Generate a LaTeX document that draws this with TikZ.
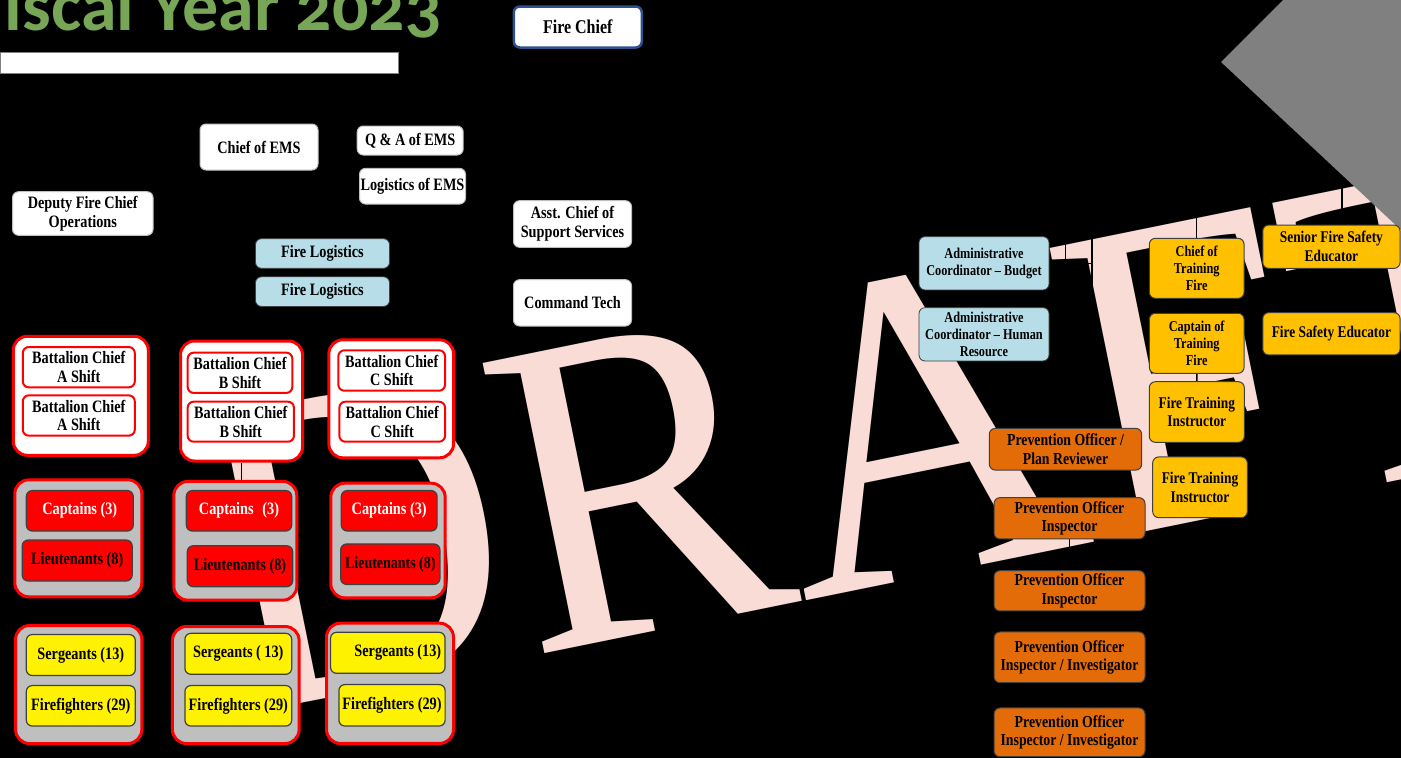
\documentclass[tikz,border=0pt]{standalone}
\usepackage{fontspec}
\usepackage{tikz}
\usetikzlibrary{positioning}

\newfontfamily\chartfont{Liberation Serif}[FakeStretch=0.82]
\newfontfamily\titlefont{Carlito}[Numbers=OldStyle]
\newfontfamily\draftfont{Liberation Serif}

\definecolor{titlegreen}{RGB}{119,166,87}
\definecolor{draftpink}{RGB}{248,220,213}
\definecolor{diamondgray}{RGB}{128,128,128}
\definecolor{lightblue}{RGB}{183,222,232}
\definecolor{goldbox}{RGB}{255,192,0}
\definecolor{orangebox}{RGB}{227,108,9}
\definecolor{groupgray}{RGB}{191,191,191}
\definecolor{chiefblue}{RGB}{47,82,143}
\definecolor{edgegray}{RGB}{64,64,64}

\pgfdeclarelayer{bg}
\pgfdeclarelayer{mark}
\pgfdeclarelayer{lines}
\pgfdeclarelayer{shade}
\pgfsetlayers{bg,mark,lines,shade,main}

\tikzset{base node/.style={rounded corners=6pt,inner sep=1pt,align=center,
    font=\chartfont\bfseries\fontsize{17.4}{18.6}\selectfont},
  dims/.style 2 args={minimum width=#1,minimum height=#2},
  white node/.style={base node,fill=white,draw=groupgray,line width=1pt},
  blue node/.style={base node,fill=lightblue,draw=edgegray,line width=0.8pt},
  group node/.style={rounded corners=14pt,draw=red,line width=3pt},
  shift node/.style={base node,fill=white,draw=red,line width=2pt},
  red node/.style={base node,fill=red,draw=edgegray,line width=1.2pt},
  yellow node/.style={base node,fill=yellow,draw=edgegray,line width=1.2pt},
  gold node/.style={base node,fill=goldbox,draw=edgegray,line width=1pt},
  orange node/.style={base node,fill=orangebox,draw=edgegray,line width=1pt,
    font=\chartfont\bfseries\fontsize{16.8}{18.3}\selectfont},
  small text/.style={font=\chartfont\bfseries\fontsize{15}{16.7}\selectfont},
  mid text/.style={font=\chartfont\bfseries\fontsize{16.3}{18.8}\selectfont},
  link/.style={draw=black,line width=1.5pt},}

\begin{document}
\begin{tikzpicture}[x=1pt,y=-1pt]
    \useasboundingbox (0,0) rectangle (1401,758);
    \begin{pgfonlayer}{bg}
    \fill[black] (0,0) rectangle (1401,758);
    \node[anchor=base east,inner sep=0,text=titlegreen,
      font=\titlefont\bfseries\fontsize{72}{72}\selectfont] (title) at (442,30) {Fiscal Year 2023};
    \filldraw[fill=white,draw=gray,line width=1pt] (0,52.3) rectangle (398.2,73.3);
    \end{pgfonlayer}
    \begin{pgfonlayer}{mark}
    \node[anchor=base west,inner sep=0,rotate=11.5,text=draftpink] (draft) at (235,717)
      {\scalebox{0.92}[1]{\draftfont\fontsize{453}{453}\selectfont DRAFT}};
    \end{pgfonlayer}
    \begin{pgfonlayer}{shade}
    \fill[diamondgray] (1221,62) -- (1283,0) -- (1401,0) -- (1401,230) -- cycle;
    \end{pgfonlayer}

    % top row
    \node[white node,draw=chiefblue,line width=2.5pt,dims={128pt}{41pt},
      font=\chartfont\bfseries\fontsize{19.5}{21}\selectfont] (chief) at (577.8,27) {Fire Chief};
    \node[white node,dims={118pt}{46pt}] (ems) at (259,147) {Chief of EMS};
    \node[white node,dims={106pt}{29pt}] (qa) at (410.2,140.5) {Q \& A of EMS};
    \node[white node,dims={106pt}{35.7pt},inner sep=0.5pt] (logems) at (412.5,186.2) {Logistics of EMS};
    \node[white node,dims={140.5pt}{43.6pt}] (deputy) at (82.8,213.5) {Deputy Fire Chief\\Operations};
    \node[blue node,dims={134pt}{29.6pt}] (flog1) at (322.5,253.5) {Fire Logistics};
    \node[blue node,dims={134pt}{29.6pt},below=7.7pt of flog1] (flog2) {Fire Logistics};
    \node[white node,dims={118pt}{46.6pt}] (asst) at (572.5,224) {Asst. Chief of\\Support Services};
    \node[white node,dims={118pt}{46.3pt},below=31.4pt of asst] (ctech) {Command Tech};

    % battalion chiefs
    \node[group node,fill=white,dims={135pt}{119pt}] (bcA) at (80.8,395.8) {};
    \node[shift node,dims={112pt}{40.3pt}] (bcA1) at (78.8,367.2) {Battalion Chief\\A Shift};
    \node[shift node,dims={112pt}{40.3pt}] (bcA2) at (78.8,415.5) {Battalion Chief\\A Shift};
    \node[group node,fill=white,dims={122pt}{120pt}] (bcB) at (241.5,401) {};
    \node[shift node,dims={104.6pt}{40.3pt}] (bcB1) at (240,372.8) {Battalion Chief\\B Shift};
    \node[shift node,dims={106.3pt}{40pt}] (bcB2) at (240.8,421.7) {Battalion Chief\\B Shift};
    \node[group node,fill=white,dims={124.7pt}{118pt}] (bcC) at (391.2,398.8) {};
    \node[shift node,dims={106.7pt}{40.4pt}] (bcC1) at (391.7,370.5) {Battalion Chief\\C Shift};
    \node[shift node,dims={105.7pt}{40pt}] (bcC2) at (392.2,421.7) {Battalion Chief\\C Shift};

    % captains and lieutenants
    \node[group node,fill=groupgray,dims={127pt}{117pt}] (capsA) at (78.3,538.3) {};
    \node[red node,text=white,dims={107pt}{40.5pt}] (capA) at (79.8,510.8) {Captains (3)};
    \node[red node,dims={110pt}{41pt}] (ltA) at (77.2,560.5) {Lieutenants (8)};
    \node[group node,fill=groupgray,dims={123pt}{118.7pt}] (capsB) at (235.3,540.8) {};
    \node[red node,text=white,dims={105.4pt}{40.5pt}] (capB) at (239,510.8) {Captains\enspace(3)};
    \node[red node,dims={105.4pt}{41pt}] (ltB) at (240,566.2) {Lieutenants (8)};
    \node[group node,fill=groupgray,dims={114.4pt}{114.6pt}] (capsC) at (388,540.5) {};
    \node[red node,text=white,dims={95.8pt}{40.5pt}] (capC) at (389.2,510.8) {Captains (3)};
    \node[red node,dims={99.3pt}{40.5pt},inner sep=0pt,
      font=\chartfont\bfseries\fontsize{17}{18.6}\selectfont] (ltC) at (390.3,564.2) {Lieutenants (8)};

    % sergeants and firefighters
    \node[group node,fill=groupgray,dims={126.3pt}{118pt}] (sgtsA) at (78.7,684.5) {};
    \node[yellow node,dims={109pt}{41pt}] (sgtA) at (80.8,655) {Sergeants (13)};
    \node[yellow node,dims={109pt}{40.5pt}] (ffA) at (80.8,705.8) {Firefighters (29)};
    \node[group node,fill=groupgray,dims={126.7pt}{117pt}] (sgtsB) at (235.8,685) {};
    \node[yellow node,dims={106.8pt}{41pt}] (sgtB) at (238.3,653.8) {Sergeants ( 13)};
    \node[yellow node,dims={106.8pt}{40.5pt}] (ffB) at (238.3,705.8) {Firefighters (29)};
    \node[group node,fill=groupgray,dims={127pt}{120.3pt}] (sgtsC) at (390,683.3) {};
    \node[yellow node,dims={114.5pt}{41pt}] (sgtC) at (387.8,652.8) {\hspace*{20pt}Sergeants (13)};
    \node[yellow node,dims={106.2pt}{41.5pt}] (ffC) at (392,705.3) {Firefighters (29)};

    % support side
    \node[blue node,small text,dims={130pt}{53.3pt}] (admin1) at (984,263.3) {Administrative\\Coordinator – Budget};
    \node[blue node,small text,dims={130pt}{53.3pt}] (admin2) at (984,334.3) {Administrative\\Coordinator – Human\\Resource};
    \node[gold node,small text,dims={94.7pt}{60pt}] (ctrain) at (1196.7,268.3) {Chief of\\Training\\Fire};
    \node[gold node,small text,dims={94.7pt}{60pt}] (captrain) at (1196.7,343.3) {Captain of\\Training\\Fire};
    \node[gold node,mid text,dims={95pt}{60.6pt}] (fti1) at (1196.8,412) {Fire Training\\Instructor};
    \node[gold node,mid text,dims={94.6pt}{60.7pt}] (fti2) at (1200,487.3) {Fire Training\\Instructor};
    \node[gold node,mid text,dims={137.3pt}{43.3pt}] (sfse) at (1331.4,246.7) {Senior Fire Safety\\Educator};
    \node[gold node,mid text,dims={137.3pt}{42.3pt}] (fse) at (1331.4,333.8) {Fire Safety Educator};
    \node[orange node,dims={152.4pt}{41.7pt}] (plan) at (1065.5,449.2) {Prevention Officer /\\Plan Reviewer};
    \node[orange node,dims={151pt}{41.3pt}] (poi1) at (1069.5,518.3) {Prevention Officer\\Inspector};
    \node[orange node,dims={151pt}{40.3pt}] (poi2) at (1069.5,590.8) {Prevention Officer\\Inspector};
    \node[orange node,dims={151pt}{50.7pt}] (poii1) at (1069.5,657.3) {Prevention Officer\\Inspector / Investigator};
    \node[orange node,dims={151pt}{48.7pt}] (poii2) at (1069.5,732.3) {Prevention Officer\\Inspector / Investigator};

    \begin{pgfonlayer}{lines}
    \coordinate (hub) at (577.8,100);
    \coordinate (trunk) at (803,758);
    \coordinate (rbus) at (803,180);
    \coordinate (rend) at (1342,180);
    \coordinate (adm) at (1092,180);
    \coordinate (obus) at (0,315);
    \draw[link] (chief) -- (hub);
    \draw[link] (deputy.north) |- (hub) -| (trunk);
    \draw[link] (ems.north) -- (ems.north |- hub);
    \draw[link] (asst.north) -- (asst.north |- hub);
    \draw[link] (asst) -- (ctech);
    \draw[link] (ems.east |- qa.west) -- (qa.west);
    \draw[link] (qa) -- (qa.south |- logems.north);
    % operations
    \draw[link] (deputy.south) -- (deputy.south |- obus) -| (bcC.north);
    \draw[link] (bcA.north) -- (bcA.north |- obus);
    \draw[link] (bcB.north) -- (bcB.north |- obus);
    \foreach \col in {A,B,C}{
      \draw[link] (bc\col.south) -- (bc\col.south |- caps\col.north);
      \draw[link] (caps\col.south) -- (caps\col.south |- sgts\col.north);
    }
    % support
    \draw[link] (rbus) -| (sfse.north -| rend);
    \draw[link] (plan.north) -- (plan.north |- rbus);
    \draw[link] (adm) |- (admin2.east);
    \draw[link] (admin1.east) -- (admin1.east -| adm);
    \draw[link] (ctrain.north) -- (ctrain.north |- rbus);
    \draw[link] (ctrain) -- (captrain);
    \draw[link] (captrain) -- (fti1);
    \draw[link] (fti1.south) -- (fti1.south |- fti2.north);
    \draw[link] (sfse.south -| rend) -- (fse.north -| rend);
    \draw[link] (plan.south -| poi1.north) -- (poi1.north);
    \draw[link] (poi1) -- (poi2);
    \draw[link] (poi2) -- (poii1);
    \draw[link] (poii1) -- (poii2);
    \end{pgfonlayer}
\end{tikzpicture}
\end{document}
